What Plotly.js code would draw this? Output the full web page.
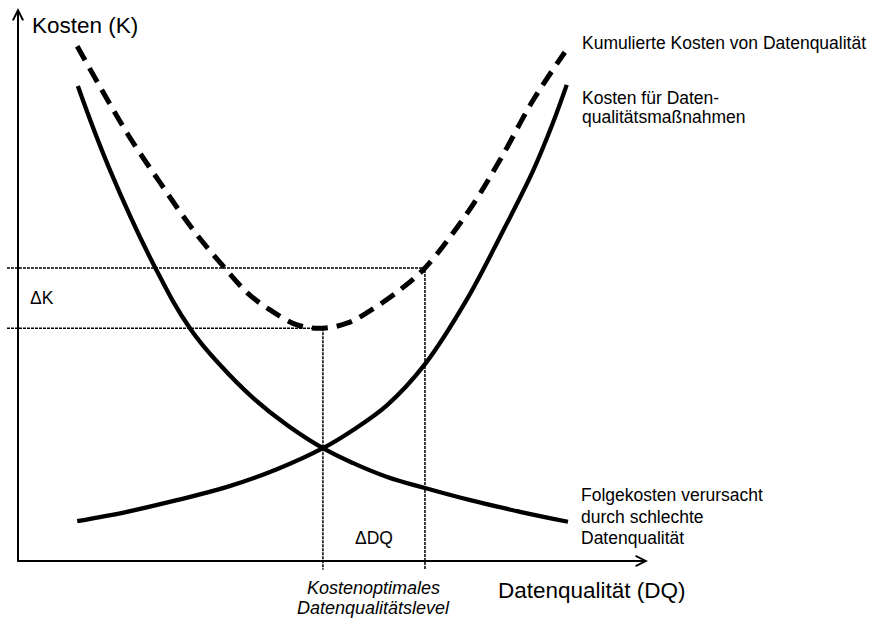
<!DOCTYPE html>
<html>
<head>
<meta charset="utf-8">
<script src="https://cdn.plot.ly/plotly-3.0.1.min.js"></script>
<style>html,body{margin:0;padding:0;background:#fff;}#chart{width:877px;height:621px;}</style>
</head>
<body>
<div id="chart"></div>
<script>
// Data quality (DQ, arbitrary units) and costs (K, arbitrary units)
const dqMeasures = [9.4, 17.3, 25.2, 33.2, 41.1, 48.4, 53.2, 58.6, 64.6, 71.3, 76.5, 81.8, 84.9, 87.1];
const costMeasures = [7.2, 8.9, 11.0, 13.4, 16.6, 20.4, 23.7, 28.2, 35.6, 47.4, 58.6, 70.7, 79.2, 86.1];

const dqFollowUp = [9.5, 14.6, 21.8, 27.4, 32.2, 37.3, 42.7, 48.4, 53.2, 58.6, 64.6, 71.8, 79.7, 87.3];
const costFollowUp = [85.9, 70.7, 53.0, 41.9, 35.3, 29.5, 24.6, 20.4, 17.7, 15.2, 13.2, 11.0, 8.9, 7.1];

const dqTotal = [9.4, 17.3, 22.5, 27.8, 32.5, 36.4, 40.0, 44.3, 48.4, 52.2, 55.4, 60.6, 64.6, 71.3, 76.5, 81.8, 86.8];
const costTotal = [93.1, 77.4, 68.5, 59.9, 53.4, 48.5, 45.4, 42.7, 42.1, 43.0, 44.9, 49.0, 53.0, 62.9, 72.5, 83.4, 92.0];

// Reference levels: cost-optimal DQ and a higher DQ level
const refDQ = [48.4, 64.6];
const refK = [42.1, 53.0];

// Text labels
const labelYAxis = 'Kosten (K)';
const labelXAxis = 'Datenqualität (DQ)';
const labelTotal = ['Kumulierte Kosten von Datenqualität'];
const labelMeasures = ['Kosten für Daten-', 'qualitätsmaßnahmen'];
const labelFollowUp = ['Folgekosten verursacht', 'durch schlechte', 'Datenqualität'];
const labelDeltaK = 'ΔK';
const labelDeltaDQ = 'ΔDQ';
const labelOptimum = ['Kostenoptimales', 'Datenqualitätslevel'];

const FONT = 'Liberation Sans, Arial, sans-serif';
const guideLeft = -1.75;   // where horizontal guides start (left of the K axis)
const guideBottom = -1.6;  // where vertical guides end (below the DQ axis)

// build guide lines
const gx = [], gy = [];
for (let i = 0; i < refDQ.length; i++) {
  gx.push(guideLeft, refDQ[i], refDQ[i], null);
  gy.push(refK[i], refK[i], guideBottom, null);
}

const traces = [
  {x: gx, y: gy, mode: 'lines', line: {color: '#000', width: 1.5, dash: '3px,1px'}, hoverinfo: 'skip'},
  {x: dqMeasures, y: costMeasures, mode: 'lines', line: {color: '#000', width: 4.3, shape: 'spline', smoothing: 1}},
  {x: dqFollowUp, y: costFollowUp, mode: 'lines', line: {color: '#000', width: 4.3, shape: 'spline', smoothing: 1.2}},
  {x: dqTotal, y: costTotal, mode: 'lines', line: {color: '#000', width: 5, shape: 'spline', smoothing: 1, dash: '16px,9px'}}
];

const txt = (text, x, y, xanchor, size) => ({
  text: text, x: x, y: y, xref: 'x', yref: 'y', xanchor: xanchor, yanchor: 'middle',
  showarrow: false, align: xanchor === 'center' ? 'center' : 'left',
  font: {family: FONT, size: size, color: '#000'}
});

// multi-line blocks as separate lines (exact line spacing)
const block = (lines, x, yTop, step, xanchor, size, wrap) =>
  lines.map((l, i) => txt(wrap ? wrap(l) : l, x, yTop - i * step, xanchor, size));

const midDQ = (refDQ[0] + refDQ[1]) / 2;

const annotations = [
  // axes with arrow heads
  {x: 0, y: 100, ax: 0, ay: -0.4, xref: 'x', yref: 'y', axref: 'x', ayref: 'y', text: '',
   showarrow: true, arrowhead: 5, arrowsize: 1, arrowwidth: 2, arrowcolor: '#000', standoff: 0, startstandoff: 0},
  {x: 100, y: 0, ax: -0.3, ay: 0, xref: 'x', yref: 'y', axref: 'x', ayref: 'y', text: '',
   showarrow: true, arrowhead: 5, arrowsize: 1, arrowwidth: 2, arrowcolor: '#000', standoff: 0, startstandoff: 0},
  txt(labelYAxis, 1.9, 96.8, 'left', 22.5),
  txt(labelXAxis, 75.9, -5.3, 'left', 22.5),
  ...block(labelTotal, 89.2, 93.7, 0, 'left', 17.5),
  ...block(labelMeasures, 89.2, 83.7, 3.45, 'left', 17.5),
  ...block(labelFollowUp, 89.1, 11.9, 3.9, 'left', 17.5),
  txt(labelDeltaK, 1.6, 47.6, 'left', 17.5),
  txt(labelDeltaDQ, midDQ, 4.2, 'center', 17.5),
  ...block(labelOptimum, midDQ, -4.9, 3.6, 'center', 18, l => '<i>' + l + '</i>')
];

const layout = {
  width: 877, height: 621,
  margin: {l: 0, r: 0, t: 0, b: 0, pad: 0},
  paper_bgcolor: '#fff', plot_bgcolor: '#fff',
  showlegend: false,
  xaxis: {range: [-2.857, 136.35], visible: false, fixedrange: true},
  yaxis: {range: [-10.85, 101.45], visible: false, fixedrange: true},
  annotations: annotations
};

Plotly.newPlot('chart', traces, layout, {displayModeBar: false, staticPlot: true});
</script>
</body>
</html>
